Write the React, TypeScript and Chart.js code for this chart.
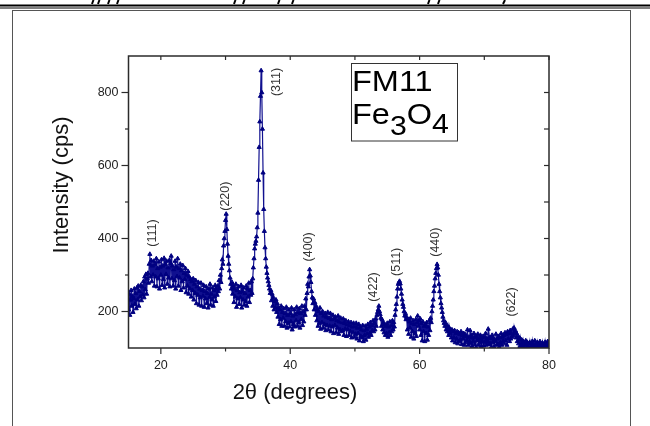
import React, { useEffect, useRef } from "react";
import { Chart, registerables } from "chart.js";
Chart.register(...registerables);

// 2θ grid: start and step in degrees
const X_START = 15;
const X_STEP = 0.1;

const I_15_25 = [
  205, 248, 190, 232, 258, 215, 242, 198, 236, 262,
  220, 250, 208, 265, 232, 270, 215, 255, 240, 272,
  230, 268, 245, 282, 238, 295, 260, 302, 248, 290,
  305, 278, 330, 357, 295, 340, 282, 325, 300, 338,
  270, 330, 295, 345, 268, 318, 290, 336, 262, 322,
  300, 342, 272, 325, 288, 346, 265, 330, 302, 338,
  275, 320, 292, 340, 268, 332, 352, 290, 325, 270,
  315, 285, 338, 262, 322, 296, 345, 270, 318, 292,
  330, 258, 312, 282, 326, 265, 305, 288, 318, 252,
  300, 270, 310, 248, 295, 262, 288, 240, 282, 258,
];
const I_25_35 = [
  290, 232, 275, 250, 285, 222, 268, 245, 280, 218,
  262, 238, 278, 215, 258, 242, 272, 212, 255, 235,
  268, 222, 250, 210, 262, 238, 275, 218, 248, 232,
  265, 215, 258, 240, 272, 228, 262, 245, 270, 255,
  285, 262, 300, 280, 318, 342, 330, 380, 400, 420,
  450, 467, 425, 385, 352, 330, 312, 292, 275, 262,
  280, 248, 270, 225, 262, 240, 275, 212, 258, 235,
  268, 220, 252, 238, 272, 210, 255, 232, 265, 218,
  250, 228, 270, 215, 262, 240, 278, 225, 258, 245,
  282, 250, 290, 320, 345, 372, 385, 393, 405, 430,
];
const I_35_45 = [
  470, 560, 650, 720, 790, 860, 800, 700, 580, 480,
  420, 375, 345, 322, 305, 292, 282, 272, 262, 250,
  258, 230, 248, 215, 238, 205, 228, 210, 232, 198,
  222, 185, 210, 165, 205, 178, 215, 160, 198, 182,
  208, 160, 195, 172, 212, 155, 190, 168, 205, 158,
  195, 172, 210, 150, 188, 165, 205, 158, 192, 175,
  212, 160, 198, 170, 208, 155, 195, 178, 215, 162,
  200, 172, 215, 190, 235, 205, 250, 275, 268, 295,
  315, 298, 280, 255, 238, 222, 235, 205, 225, 190,
  215, 175, 205, 160, 200, 168, 210, 152, 195, 170,
];
const I_45_55 = [
  200, 155, 188, 165, 195, 148, 185, 162, 198, 150,
  182, 160, 195, 145, 178, 158, 190, 140, 180, 162,
  185, 142, 175, 155, 188, 138, 172, 150, 182, 145,
  170, 148, 180, 135, 168, 152, 175, 132, 165, 150,
  172, 135, 162, 145, 170, 128, 158, 142, 168, 130,
  160, 138, 168, 125, 155, 140, 165, 120, 158, 132,
  150, 128, 162, 118, 148, 135, 160, 122, 152, 138,
  165, 130, 158, 140, 170, 135, 162, 148, 175, 145,
  168, 150, 180, 160, 190, 198, 205, 215, 200, 192,
  182, 160, 178, 150, 170, 142, 165, 135, 160, 140,
];
const I_55_65 = [
  168, 130, 158, 142, 172, 135, 162, 145, 175, 150,
  170, 158, 190, 205, 220, 240, 262, 275, 280, 283,
  276, 262, 248, 232, 220, 212, 200, 188, 195, 178,
  185, 150, 178, 138, 172, 155, 182, 130, 168, 145,
  175, 125, 165, 140, 178, 132, 170, 188, 160, 175,
  150, 180, 135, 168, 120, 172, 145, 160, 118, 165,
  140, 170, 122, 158, 135, 175, 148, 182, 170, 200,
  215, 232, 255, 270, 290, 305, 318, 329, 320, 300,
  275, 255, 238, 222, 210, 198, 185, 175, 168, 160,
  170, 150, 162, 145, 158, 135, 155, 140, 150, 128,
];
const I_65_75 = [
  150, 120, 145, 128, 148, 115, 140, 125, 145, 112,
  142, 118, 138, 122, 145, 110, 135, 125, 140, 108,
  138, 115, 132, 120, 150, 108, 130, 118, 148, 112,
  135, 105, 128, 118, 140, 110, 132, 102, 130, 120,
  138, 108, 125, 115, 135, 104, 128, 118, 132, 106,
  130, 115, 140, 108, 125, 118, 152, 110, 128, 112,
  126, 104, 135, 115, 128, 102, 122, 118, 138, 108,
  125, 110, 132, 102, 128, 115, 140, 108, 130, 118,
  135, 112, 142, 120, 138, 108, 145, 125, 140, 118,
  148, 125, 140, 130, 152, 135, 155, 142, 148, 128,
];
const I_75_80 = [
  140, 118, 132, 112, 128, 105, 125, 110, 122, 104,
  118, 102, 115, 108, 120, 100, 116, 104, 112, 98,
  115, 100, 112, 104, 118, 98, 110, 102, 120, 99,
  112, 98, 115, 103, 110, 97, 118, 101, 108, 98,
  114, 100, 110, 98, 116, 102, 112, 99, 118, 104,
  110,
];

const X_MIN = 15;
const X_MAX = 80;
const Y_MIN = 100;
const Y_MAX = 900;
const X_TICKS_MAJOR = [20, 40, 60, 80];
const X_TICKS_MINOR = [30, 50, 70];
const Y_TICKS_MAJOR = [200, 400, 600, 800];
const Y_TICKS_MINOR = [300, 500, 700];

const PEAK_LABELS = ["(111)", "(220)", "(311)", "(400)", "(422)", "(511)", "(440)", "(622)"];
const PEAK_LABEL_X = [18.66, 29.99, 37.95, 42.9, 52.94, 56.5, 62.53, 74.27];
const PEAK_LABEL_Y = [415, 516, 829, 377, 267, 336, 390, 226];

const X_TITLE = "2θ (degrees)";
const Y_TITLE = "Intensity (cps)";
const BOX_LINE1 = "FM11";

const NAVY = "#000080";
const AXIS = "#2b2b2b";
const FONT = '"Liberation Sans", Arial, sans-serif';

export default function App() {
  const ref = useRef<HTMLCanvasElement>(null);

  useEffect(() => {
    const canvas = ref.current;
    if (!canvas) return;
    const values = [...I_15_25, ...I_25_35, ...I_35_45, ...I_45_55, ...I_55_65, ...I_65_75, ...I_75_80];
    const points = values.map((y, i) => ({ x: Math.round((X_START + i * X_STEP) * 100) / 100, y }));

    const deco = {
      id: "deco",
      afterDraw(chart: any) {
        const ctx = chart.ctx as CanvasRenderingContext2D;
        const xs = chart.scales.x;
        const ys = chart.scales.y;
        const { left, right, top, bottom } = chart.chartArea;
        ctx.save();

        // page decorations: top rules and outer frame
        ctx.strokeStyle = "#000";
        ctx.lineWidth = 2;
        ctx.beginPath(); ctx.moveTo(0, 5.5); ctx.lineTo(650, 5.5); ctx.stroke();
        ctx.lineWidth = 1;
        ctx.beginPath(); ctx.moveTo(0, 8); ctx.lineTo(650, 8); ctx.stroke();
        ctx.strokeStyle = "#555";
        ctx.strokeRect(12.5, 10.5, 618, 430);
        // cut-off glyph fragments of the text above
        ctx.strokeStyle = "#000";
        ctx.lineWidth = 2;
        for (const fx of [92, 98, 108, 117, 234, 243, 278, 292, 428, 438]) {
          ctx.beginPath(); ctx.moveTo(fx + 1.5, 0); ctx.lineTo(fx, 4); ctx.stroke();
        }
        ctx.beginPath(); ctx.moveTo(505, 0); ctx.lineTo(503, 4); ctx.stroke();

        // plot frame
        ctx.strokeStyle = AXIS;
        ctx.lineWidth = 1.5;
        ctx.strokeRect(left, top, right - left, bottom - top);

        ctx.lineWidth = 1.2;
        const line = (x1: number, y1: number, x2: number, y2: number) => {
          ctx.beginPath(); ctx.moveTo(x1, y1); ctx.lineTo(x2, y2); ctx.stroke();
        };
        for (const v of X_TICKS_MAJOR) { const p = xs.getPixelForValue(v); line(p, bottom, p, bottom + 6); }
        for (const v of X_TICKS_MINOR) { const p = xs.getPixelForValue(v); line(p, bottom, p, bottom + 3.5); }
        for (const v of [...X_TICKS_MAJOR, ...X_TICKS_MINOR]) { const p = xs.getPixelForValue(v); line(p, top, p, top + 4); }
        for (const v of Y_TICKS_MAJOR) { const p = ys.getPixelForValue(v); line(left, p, left - 7, p); }
        for (const v of Y_TICKS_MINOR) { const p = ys.getPixelForValue(v); line(left, p, left - 3.5, p); }
        for (const v of [...Y_TICKS_MAJOR, ...Y_TICKS_MINOR]) { const p = ys.getPixelForValue(v); line(right, p, right - 5, p); }

        // tick labels
        ctx.fillStyle = "#222";
        ctx.font = `12.5px ${FONT}`;
        ctx.textAlign = "center";
        ctx.textBaseline = "alphabetic";
        for (const v of X_TICKS_MAJOR) ctx.fillText(String(v), xs.getPixelForValue(v), 368.5);
        ctx.textAlign = "right";
        ctx.textBaseline = "middle";
        for (const v of Y_TICKS_MAJOR) ctx.fillText(String(v), left - 10, ys.getPixelForValue(v));

        // axis titles
        ctx.fillStyle = "#111";
        ctx.font = `22px ${FONT}`;
        ctx.textAlign = "center";
        ctx.textBaseline = "alphabetic";
        ctx.fillText(X_TITLE, 295, 399);
        ctx.save();
        ctx.translate(68, 185);
        ctx.rotate(-Math.PI / 2);
        ctx.fillText(Y_TITLE, 0, 0);
        ctx.restore();

        // peak labels
        ctx.fillStyle = "#333";
        ctx.font = `12.5px ${FONT}`;
        ctx.textAlign = "center";
        ctx.textBaseline = "middle";
        PEAK_LABELS.forEach((t, i) => {
          ctx.save();
          ctx.translate(xs.getPixelForValue(PEAK_LABEL_X[i]), ys.getPixelForValue(PEAK_LABEL_Y[i]));
          ctx.rotate(-Math.PI / 2);
          ctx.fillText(t, 0, 0);
          ctx.restore();
        });

        // sample text box
        ctx.fillStyle = "#fff";
        ctx.fillRect(351.5, 63.5, 106, 77.5);
        ctx.strokeStyle = "#333";
        ctx.lineWidth = 1;
        ctx.strokeRect(351.5, 63.5, 106, 77.5);
        ctx.fillStyle = "#000";
        ctx.textAlign = "left";
        ctx.textBaseline = "alphabetic";
        const sx = 1.12;
        const draw = (t: string, x: number, y: number, size: number) => {
          ctx.save();
          ctx.font = `${size}px ${FONT}`;
          ctx.translate(x, y);
          ctx.scale(sx, 1);
          ctx.fillText(t, 0, 0);
          const w = ctx.measureText(t).width * sx;
          ctx.restore();
          return x + w;
        };
        draw(BOX_LINE1, 352, 91, 29);
        let cx = draw("Fe", 352, 124, 29);
        cx = draw("3", cx, 134.5, 27);
        cx = draw("O", cx, 124, 29);
        draw("4", cx, 133, 27);

        ctx.restore();
      },
    };

    const chart = new Chart(canvas, {
      type: "line",
      data: {
        datasets: [
          {
            data: points,
            borderColor: "#10108f",
            backgroundColor: NAVY,
            borderWidth: 1.2,
            pointStyle: "triangle",
            pointRadius: 2.4,
            pointBorderWidth: 1,
            pointBackgroundColor: NAVY,
            pointBorderColor: NAVY,
            tension: 0,
          },
        ],
      },
      options: {
        responsive: false,
        animation: false,
        events: [],
        layout: { padding: { left: 128.5, right: 650 - 549, top: 56, bottom: 426 - 348 } },
        plugins: { legend: { display: false }, tooltip: { enabled: false } },
        scales: {
          x: { type: "linear", min: X_MIN, max: X_MAX, display: false },
          y: { type: "linear", min: Y_MIN, max: Y_MAX, display: false },
        },
      },
      plugins: [deco],
    } as any);
    return () => chart.destroy();
  }, []);

  return (
    <div style={{ position: "absolute", left: 0, top: 0, width: 650, height: 426, background: "#fff" }}>
      <canvas ref={ref} width={650} height={426} style={{ display: "block" }} />
    </div>
  );
}
